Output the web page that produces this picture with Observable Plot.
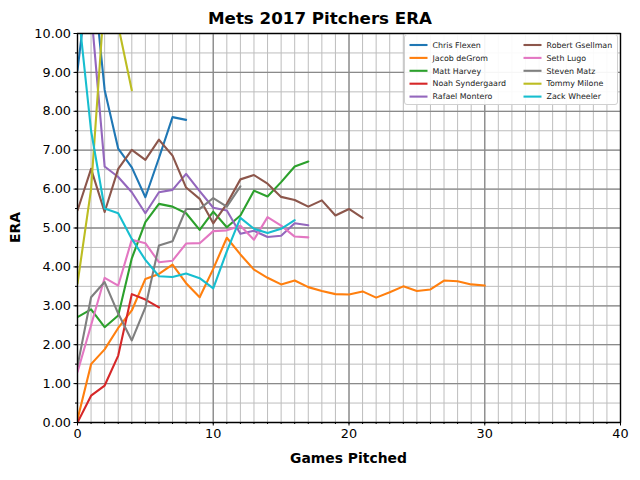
<!DOCTYPE html>
<html><head><meta charset="utf-8">
<script src="https://cdn.jsdelivr.net/npm/d3@7"></script>
<script src="https://cdn.jsdelivr.net/npm/@observablehq/plot@0.6"></script>
<style>body{margin:0;background:white;} #chart svg{display:block;}</style>
</head><body><div id="chart"></div>
<script>
const title = "Mets 2017 Pitchers ERA";
const xLabel = "Games Pitched";
const yLabel = "ERA";
const pitchers = ["Chris Flexen","Jacob deGrom","Matt Harvey","Noah Syndergaard","Rafael Montero","Robert Gsellman","Seth Lugo","Steven Matz","Tommy Milone","Zack Wheeler"];
const colors = ["#1f77b4","#ff7f0e","#2ca02c","#d62728","#9467bd","#8c564b","#e377c2","#7f7f7f","#bcbd22","#17becf"];

const flexen = [9.05, 12.0, 8.55, 7.04, 6.56, 5.79, 6.8, 7.85, 7.78];
const degrom = [0.08, 1.5, 1.88, 2.43, 2.88, 3.69, 3.82, 4.06, 3.58, 3.22, 3.95, 4.75, 4.32, 3.93, 3.72, 3.55, 3.65, 3.48, 3.38, 3.3, 3.29, 3.37, 3.21, 3.35, 3.5, 3.38, 3.42, 3.65, 3.63, 3.55, 3.52];
const harvey = [2.71, 2.91, 2.45, 2.75, 4.22, 5.15, 5.62, 5.55, 5.38, 4.95, 5.42, 5.02, 5.32, 5.96, 5.81, 6.18, 6.58, 6.71];
const syndergaard = [0.0, 0.69, 0.95, 1.72, 3.3, 3.16, 2.96];
const montero = [12.0, 10.6, 6.58, 6.31, 5.92, 5.38, 5.92, 5.98, 6.39, 5.95, 5.52, 5.45, 4.85, 4.93, 4.77, 4.8, 5.12, 5.07];
const gsellman = [5.45, 6.52, 5.41, 6.52, 7.01, 6.75, 7.27, 6.86, 6.04, 5.75, 5.12, 5.62, 6.25, 6.36, 6.14, 5.8, 5.72, 5.55, 5.71, 5.32, 5.49, 5.26];
const lugo = [1.3, 2.5, 3.72, 3.52, 4.7, 4.61, 4.12, 4.16, 4.6, 4.61, 4.92, 4.94, 5.06, 4.7, 5.28, 5.06, 4.78, 4.76];
const matz = [1.45, 3.22, 3.61, 2.8, 2.11, 2.96, 4.55, 4.66, 5.49, 5.49, 5.77, 5.55, 6.07];
const milone = [3.57, 6.0, 11.0, 10.2, 8.54];
const wheeler = [10.8, 7.5, 5.5, 5.38, 4.72, 4.18, 3.76, 3.74, 3.83, 3.71, 3.45, 4.4, 5.26, 4.98, 4.87, 4.98, 5.2];
const seriesValues = [flexen, degrom, harvey, syndergaard, montero, gsellman, lugo, matz, milone, wheeler];

const xMajor = [0, 10, 20, 30, 40];
const xMinor = d3.range(0, 41, 1);
const yMajor = d3.range(0, 11, 1);
const yMinor = d3.range(0, 10.01, 0.5);

const rows = pitchers.flatMap((name, i) => seriesValues[i].map((era, g) => ({name, g, era})));

const chart = Plot.plot({
  width: 640, height: 480,
  marginLeft: 77, marginRight: 20, marginTop: 33, marginBottom: 58,
  style: {fontFamily: "DejaVu Sans", fontSize: "12.8px", background: "white", color: "black"},
  x: {domain: [0, 40]},
  y: {domain: [0, 10]},
  color: {domain: pitchers, range: colors},
  marks: [
    Plot.gridX(xMinor, {stroke: "#bdbdbd", strokeOpacity: 1, strokeWidth: 1}),
    Plot.gridY(yMinor, {stroke: "#bdbdbd", strokeOpacity: 1, strokeWidth: 1}),
    Plot.gridX(xMajor, {stroke: "#8a8a8a", strokeOpacity: 1, strokeWidth: 1.3}),
    Plot.gridY(yMajor, {stroke: "#8a8a8a", strokeOpacity: 1, strokeWidth: 1.3}),
    Plot.line(rows, {x: "g", y: "era", z: "name", stroke: "name", strokeWidth: 2.1, clip: true}),
    Plot.frame({stroke: "black", strokeWidth: 1.3}),
    Plot.axisX(xMinor, {tickSize: 2, tickFormat: () => "", label: null}),
    Plot.axisY(yMinor, {tickSize: 2, tickFormat: () => "", label: null}),
    Plot.axisX(xMajor, {tickSize: 3.5, tickPadding: 3, label: null}),
    Plot.axisY(yMajor, {tickSize: 3.5, tickPadding: 3, tickFormat: d3.format(".2f"), label: null})
  ]
});

const svg = d3.select(chart);
svg.append("text").attr("x", 320).attr("y", 24).attr("text-anchor", "middle")
  .attr("font-family", "DejaVu Sans").attr("font-weight", "bold").attr("font-size", "16.7px").text(title);
svg.append("text").attr("x", 348.5).attr("y", 463).attr("text-anchor", "middle")
  .attr("font-family", "DejaVu Sans").attr("font-weight", "bold").attr("font-size", "13.9px").text(xLabel);
svg.append("text").attr("transform", "translate(20,227.5) rotate(-90)").attr("text-anchor", "middle")
  .attr("font-family", "DejaVu Sans").attr("font-weight", "bold").attr("font-size", "13.9px").text(yLabel);

const lg = svg.append("g").attr("font-family", "DejaVu Sans").attr("font-size", "7.9px").attr("text-anchor", "start");
lg.append("rect").attr("x", 404.5).attr("y", 34.5).attr("width", 213).attr("height", 70).attr("rx", 2.5)
  .attr("fill", "white").attr("fill-opacity", 0.92).attr("stroke", "#d0d0d0").attr("stroke-width", 1);
pitchers.forEach((name, i) => {
  const col = Math.floor(i / 5), row = i % 5;
  const x0 = col === 0 ? 409.5 : 523.5;
  const y0 = 45 + row * 12.9;
  lg.append("line").attr("x1", x0).attr("x2", x0 + 18).attr("y1", y0).attr("y2", y0)
    .attr("stroke", colors[i]).attr("stroke-width", 2.1);
  lg.append("text").attr("x", x0 + 23).attr("y", y0).attr("dy", "0.35em").attr("text-anchor", "start").attr("fill", "#222").text(name);
});

document.getElementById("chart").appendChild(chart);
</script>
</body></html>
